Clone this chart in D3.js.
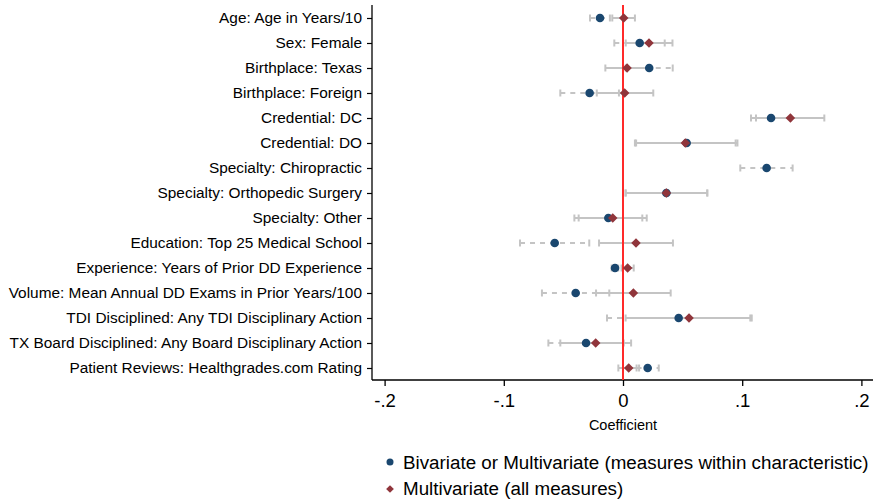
<!DOCTYPE html>
<html>
<head>
<meta charset="utf-8">
<script src="https://cdn.jsdelivr.net/npm/d3@7"></script>
<style>
  html, body { margin: 0; padding: 0; background: #ffffff; }
  svg { display: block; font-family: "Liberation Sans", Arial, sans-serif; }
</style>
</head>
<body>
<svg id="chart" width="873" height="502"></svg>
<script>
// Characteristics, top to bottom
const labels = [
  "Age: Age in Years/10",
  "Sex: Female",
  "Birthplace: Texas",
  "Birthplace: Foreign",
  "Credential: DC",
  "Credential: DO",
  "Specialty: Chiropractic",
  "Specialty: Orthopedic Surgery",
  "Specialty: Other",
  "Education: Top 25 Medical School",
  "Experience: Years of Prior DD Experience",
  "Volume: Mean Annual DD Exams in Prior Years/100",
  "TDI Disciplined: Any TDI Disciplinary Action",
  "TX Board Disciplined: Any Board Disciplinary Action",
  "Patient Reviews: Healthgrades.com Rating"
];

// Bivariate or multivariate (measures within characteristic): estimate and 95% CI
const bivEst = [-0.0193, 0.0140, 0.0220, -0.0280, 0.1242, 0.0534, 0.1205, 0.0364, -0.0123, -0.0573, -0.0067, -0.0397, 0.0467, -0.0310, 0.0207];
const bivLo  = [-0.0277, -0.0073, 0.0023, -0.0526, 0.1074, 0.0100, 0.0984, 0.0022, -0.0408, -0.0864, -0.0095, -0.0680, -0.0134, -0.0626, 0.0114];
const bivHi  = [-0.0110, 0.0350, 0.0417, -0.0034, 0.1410, 0.0960, 0.1423, 0.0707, 0.0162, -0.0283, -0.0040, -0.0115, 0.1068, 0.0006, 0.0300];

// Multivariate (all measures): estimate and 95% CI (none for chiropractic)
const mulEst = [0.0006, 0.0218, 0.0034, 0.0014, 0.1404, 0.0523, null, 0.0364, -0.0086, 0.0109, 0.0039, 0.0087, 0.0554, -0.0229, 0.0048];
const mulLo  = [-0.0090, 0.0023, -0.0148, -0.0220, 0.1116, 0.0110, null, 0.0022, -0.0372, -0.0201, -0.0012, -0.0226, 0.0022, -0.0526, -0.0039];
const mulHi  = [0.0100, 0.0415, 0.0216, 0.0254, 0.1689, 0.0945, null, 0.0707, 0.0199, 0.0419, 0.0090, 0.0400, 0.1080, 0.0068, 0.0135];

const xTicks = [-0.2, -0.1, 0, 0.1, 0.2];
const xTickLabels = ["-.2", "-.1", "0", ".1", ".2"];
const legendLabels = ["Bivariate or Multivariate (measures within characteristic)", "Multivariate (all measures)"];

const colBlue = "#1a476f", colRed = "#90353b", colCI = "#c4c4c4", colZero = "#ff2a2a";

const svg = d3.select("#chart");
const plot = { left: 372, right: 873, top: 5, bottom: 380 };

const x = d3.scaleLinear().domain([-0.2, 0.2]).range([384.6, 861.4]);
const y = d3.scalePoint().domain(labels).range([18, 368]);

// Axes frame (left and bottom only)
svg.append("line").attr("x1", plot.left).attr("x2", plot.left).attr("y1", plot.top).attr("y2", plot.bottom)
  .attr("stroke", "#000").attr("stroke-width", 1.3);
svg.append("line").attr("x1", plot.left).attr("x2", plot.right).attr("y1", plot.bottom).attr("y2", plot.bottom)
  .attr("stroke", "#000").attr("stroke-width", 1.3);

// Y axis
const yAxis = d3.axisLeft(y).tickSize(5).tickPadding(5);
const gy = svg.append("g").attr("transform", `translate(${plot.left},0)`).call(yAxis);
gy.select(".domain").remove();
gy.selectAll(".tick line").attr("stroke", "#000").attr("stroke-width", 1.2);
gy.selectAll(".tick text").attr("font-size", "15.4px").attr("fill", "#000")
  .attr("font-family", "Liberation Sans, Arial, sans-serif");

// X axis
const xAxis = d3.axisBottom(x).tickValues(xTicks).tickFormat((d, i) => xTickLabels[i]).tickSize(6).tickPadding(8);
const gx = svg.append("g").attr("transform", `translate(0,${plot.bottom})`).call(xAxis);
gx.select(".domain").remove();
gx.selectAll(".tick line").attr("stroke", "#000").attr("stroke-width", 1.3);
gx.selectAll(".tick text").attr("font-size", "18.5px").attr("fill", "#000")
  .attr("font-family", "Liberation Sans, Arial, sans-serif");

svg.append("text").attr("x", x(0)).attr("y", 430).attr("text-anchor", "middle")
  .attr("font-size", "14.5px").attr("fill", "#000").text("Coefficient");

// Confidence intervals
function drawCI(lo, hi, dashed) {
  const rows = labels.map((l, i) => ({ l, lo: lo[i], hi: hi[i] })).filter(d => d.lo != null);
  const g = svg.append("g").attr("stroke", colCI).attr("stroke-width", 2).attr("fill", "none");
  g.selectAll("line.ci").data(rows).join("line")
    .attr("x1", d => x(d.lo)).attr("x2", d => x(d.hi))
    .attr("y1", d => y(d.l)).attr("y2", d => y(d.l))
    .attr("stroke-dasharray", dashed ? "5,5" : null);
  ["lo", "hi"].forEach(k => {
    g.selectAll("line.cap" + k).data(rows).join("line")
      .attr("x1", d => x(d[k])).attr("x2", d => x(d[k]))
      .attr("y1", d => y(d.l) - 3.5).attr("y2", d => y(d.l) + 3.5);
  });
}
drawCI(bivLo, bivHi, true);
drawCI(mulLo, mulHi, false);

// Zero reference line
svg.append("line").attr("x1", x(0)).attr("x2", x(0)).attr("y1", plot.top).attr("y2", plot.bottom)
  .attr("stroke", colZero).attr("stroke-width", 2);

// Point estimates
const bivRows = labels.map((l, i) => ({ l, v: bivEst[i] })).filter(d => d.v != null);
svg.append("g").selectAll("circle").data(bivRows).join("circle")
  .attr("cx", d => x(d.v)).attr("cy", d => y(d.l)).attr("r", 4.3).attr("fill", colBlue);

const diamond = d3.symbol().type(d3.symbolDiamond2).size(58);
const mulRows = labels.map((l, i) => ({ l, v: mulEst[i] })).filter(d => d.v != null);
svg.append("g").selectAll("path").data(mulRows).join("path")
  .attr("d", diamond).attr("transform", d => `translate(${x(d.v)},${y(d.l)})`).attr("fill", colRed);

// Legend
const leg = svg.append("g");
leg.append("circle").attr("cx", 390).attr("cy", 462).attr("r", 3.5).attr("fill", colBlue);
leg.append("path").attr("d", d3.symbol().type(d3.symbolDiamond2).size(38))
  .attr("transform", "translate(390,489)").attr("fill", colRed);
leg.selectAll("text").data(legendLabels).join("text")
  .attr("x", 403).attr("y", (d, i) => 468.5 + i * 26.5)
  .attr("font-size", "18.8px").attr("fill", "#000").text(d => d);
</script>
</body>
</html>
